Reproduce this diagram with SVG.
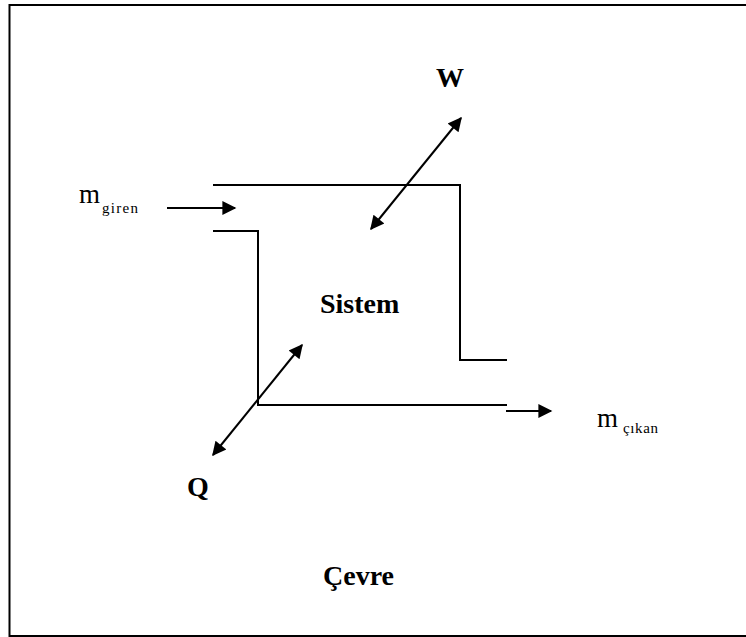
<svg xmlns="http://www.w3.org/2000/svg" width="746" height="637" viewBox="0 0 746 637">
<style>
.ln{fill:none;stroke:#000;stroke-width:2}
.ar{fill:none;stroke:#000;stroke-width:2}
.t{font-family:"Liberation Serif",serif;fill:#000}
.b{font-weight:bold;font-size:28px}
.m{font-size:27px}
.s{font-size:15px}
</style>
<defs>
<marker id="ah2" viewBox="0 0 10 10" refX="9" refY="5" markerWidth="17" markerHeight="14" orient="auto-start-reverse" markerUnits="userSpaceOnUse">
<path d="M0,0 L10,5 L0,10 z" fill="#000"/>
</marker>
</defs>
<rect x="0" y="0" width="746" height="637" fill="#fff"/>
<rect id="frame" x="9.5" y="5" width="745" height="631" fill="none" stroke="#000" stroke-width="2"/>
<g id="system">
<polyline class="ln" points="213,185 460,185 460,360 507,360"/>
<polyline class="ln" points="213,231 258,231 258,405 507,405"/>
</g>
<g id="connectors">
<line class="ar" x1="167" y1="208" x2="235" y2="208" marker-end="url(#ah2)"/>
<line class="ar" x1="506" y1="411" x2="551" y2="411" marker-end="url(#ah2)"/>
<line class="ar" x1="371" y1="229" x2="461" y2="118" marker-start="url(#ah2)" marker-end="url(#ah2)"/>
<line class="ar" x1="213" y1="455" x2="302" y2="345" marker-start="url(#ah2)" marker-end="url(#ah2)"/>
</g>
<g id="m-giren"><text class="t m" x="79" y="203">m</text><text class="t s" x="102" y="213" textLength="36" lengthAdjust="spacing">giren</text></g>
<g id="m-cikan"><text class="t m" x="597" y="427">m</text><text class="t s" x="623" y="433" textLength="35" lengthAdjust="spacing">çıkan</text></g>
<g id="sistem"><text class="t b" x="320" y="313">Sistem</text></g>
<g id="w"><text class="t b" x="436" y="87">W</text></g>
<g id="q"><text class="t b" x="187" y="496">Q</text></g>
<g id="cevre"><text class="t b" x="323" y="585">Çevre</text></g>
</svg>
